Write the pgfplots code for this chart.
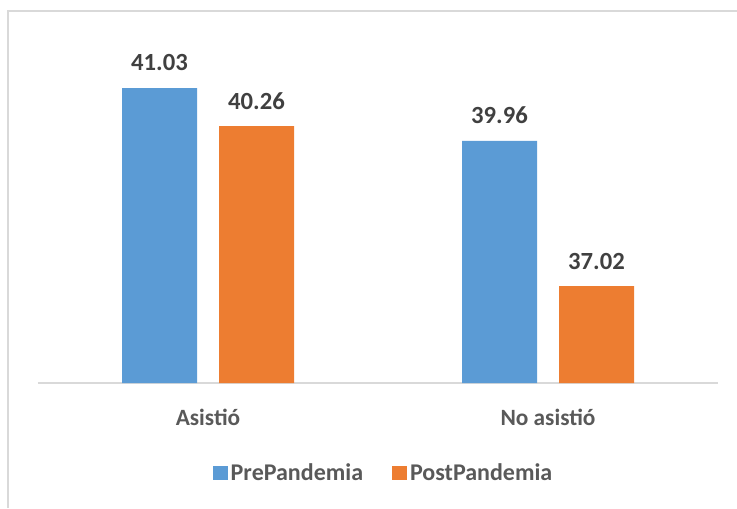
\documentclass[border=0pt]{standalone}
\usepackage{fontspec}
\setmainfont{Carlito}
\usepackage{pgfplots}
\pgfplotsset{compat=1.18}
\definecolor{cblue}{HTML}{5B9BD5}
\definecolor{corange}{HTML}{ED7D31}
\definecolor{lbl}{HTML}{404040}
\definecolor{tck}{HTML}{595959}
\definecolor{frm}{HTML}{D9D9D9}
\begin{document}
\begin{tikzpicture}
\path[use as bounding box] (-28.5pt,-93.75pt) rectangle (524.25pt,287.25pt);
\draw[frm, line width=0.8pt] (-22.5pt,-93.75pt) -- (-22.5pt,279pt) -- (524.25pt,279pt);
\begin{axis}[
  scale only axis,
  width=510pt, height=259.35pt,
  ymin=35.06, ymax=42.06,
  xmin=-0.5, xmax=1.5,
  ybar=16.5pt,
  bar width=56.25pt,
  axis y line=none,
  axis x line*=bottom,
  x axis line style={frm, line width=1.2pt, -},
  xtick={0,1},
  xticklabels={Asistió, No asistió},
  major tick length=0pt,
  xticklabel style={font=\fontsize{17.5}{20}\selectfont\bfseries, text=tck, yshift=-16pt},
  nodes near coords,
  nodes near coords style={font=\fontsize{18.5}{20}\selectfont\bfseries, text=lbl, anchor=south, inner sep=0pt, yshift=12.5pt, /pgf/number format/assume math mode=true, /pgf/number format/fixed, /pgf/number format/precision=2, /pgf/number format/fixed zerofill},
  legend style={draw=none, at={(0.5,0)}, anchor=center, xshift=4.5pt, yshift=-67.5pt, font=\fontsize{18}{20}\selectfont\bfseries, text=tck, /tikz/every even column/.append style={column sep=20pt}},
  legend columns=2,
  legend image code/.code={\fill[#1] (0pt,-5.6pt) rectangle (11.25pt,5.6pt);},
]
\addplot[fill=cblue, draw=none] coordinates {(0,41.03) (1,39.96)};
\addplot[fill=corange, draw=none] coordinates {(0,40.26) (1,37.02)};
\legend{PrePandemia, PostPandemia}
\end{axis}
\end{tikzpicture}
\end{document}
